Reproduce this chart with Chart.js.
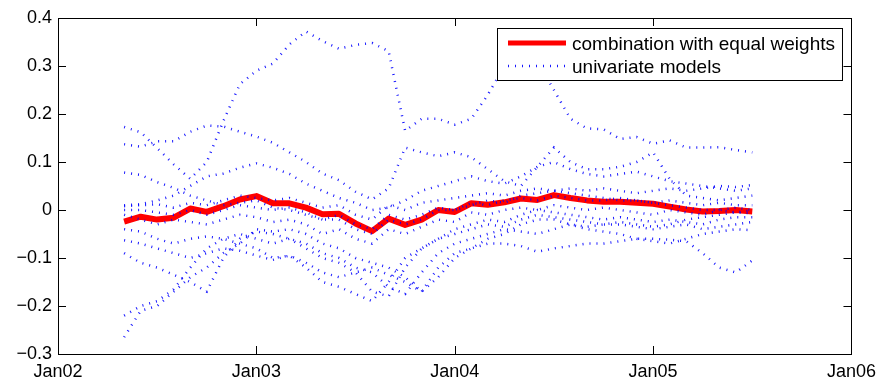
<!DOCTYPE html>
<html><head><meta charset="utf-8">
<script src="https://cdn.jsdelivr.net/npm/chart.js@4.4.0/dist/chart.umd.min.js"></script>
<style>html,body{margin:0;padding:0;background:#fff;}</style>
</head><body>
<canvas id="c" width="883" height="384"></canvas>
<script>
// x values: months since Jan 2002
const months = [4,5,6,7,8,9,10,11,12,13,14,15,16,17,18,19,20,21,22,23,24,25,26,27,28,29,30,31,32,33,34,35,36,37,38,39,40,41,42];
const xTickLabels = ['Jan02','Jan03','Jan04','Jan05','Jan06'];
const legendLabels = ['combination with equal weights','univariate models'];

const combination = [-0.024,-0.014,-0.02,-0.016,0.003,-0.004,0.008,0.022,0.029,0.014,0.014,0.005,-0.009,-0.008,-0.028,-0.044,-0.018,-0.031,-0.02,0.0,-0.004,0.014,0.011,0.016,0.024,0.021,0.031,0.025,0.02,0.017,0.017,0.015,0.013,0.007,0.001,-0.003,-0.002,0.0,-0.003];

const model01 = [0.173,0.162,0.129,0.095,0.065,0.1,0.185,0.262,0.29,0.305,0.345,0.372,0.352,0.336,0.344,0.348,0.331,0.165,0.19,0.19,0.178,0.19,0.24,0.30,0.33,0.31,0.25,0.19,0.17,0.168,0.148,0.152,0.138,0.145,0.13,0.13,0.131,0.125,0.12];
const model02 = [0.137,0.132,0.143,0.143,0.163,0.176,0.174,0.163,0.153,0.14,0.12,0.1,0.076,0.062,0.038,0.022,0.045,0.13,0.12,0.112,0.12,0.11,0.085,0.06,0.05,0.09,0.13,0.1,0.085,0.085,0.09,0.1,0.12,0.065,0.03,0.025,0.02,0.025,0.03];
const model03 = [0.078,0.073,0.058,0.046,0.03,0.02,0.01,0.015,0.02,0.005,0.0,-0.01,-0.02,-0.02,-0.04,-0.05,-0.02,-0.03,-0.02,0.0,0.0,0.01,0.02,0.015,0.03,0.035,0.04,0.035,0.03,0.025,0.02,0.02,0.015,0.01,0.005,0.0,0.0,0.005,0.0];
const model04 = [0.01,0.012,0.02,0.03,0.05,0.07,0.076,0.088,0.097,0.088,0.075,0.055,0.04,0.025,0.015,0.0,0.005,0.02,0.04,0.05,0.06,0.07,0.06,0.055,0.07,0.09,0.1,0.085,0.075,0.07,0.075,0.08,0.07,0.06,0.055,0.05,0.045,0.04,0.045];
const model05 = [0.008,0.01,0.012,0.005,0.015,0.01,0.02,0.03,0.025,0.02,0.025,0.015,0.005,0.01,-0.01,-0.02,0.01,0.0,0.015,0.02,0.025,0.03,0.035,0.03,0.04,0.045,0.04,0.045,0.04,0.045,0.04,0.035,0.04,0.045,0.04,0.045,0.05,0.048,0.052];
const model06 = [0.0,0.0,-0.005,-0.01,0.0,-0.01,0.0,0.01,0.005,0.0,0.005,-0.005,-0.02,-0.01,-0.03,-0.04,-0.01,-0.02,-0.01,0.005,0.0,0.015,0.01,0.02,0.025,0.02,0.03,0.025,0.02,0.02,0.025,0.02,0.015,0.02,0.015,0.01,0.015,0.01,0.01];
const model07 = [-0.01,-0.02,-0.03,-0.02,-0.025,-0.03,-0.02,-0.01,-0.015,-0.025,-0.02,-0.03,-0.05,-0.04,-0.06,-0.07,-0.04,-0.05,-0.035,-0.02,-0.025,-0.005,-0.01,0.0,0.005,0.0,0.01,0.005,0.0,0.005,0.0,-0.005,-0.01,0.0,-0.005,-0.01,0.0,-0.005,0.0];
const model08 = [-0.04,-0.045,-0.06,-0.07,-0.06,-0.055,-0.06,-0.07,-0.08,-0.1,-0.095,-0.12,-0.15,-0.16,-0.175,-0.19,-0.15,-0.1,-0.08,-0.06,-0.05,-0.04,-0.03,-0.035,-0.02,-0.01,-0.015,-0.02,-0.025,-0.03,-0.03,-0.035,-0.04,-0.035,-0.03,-0.04,-0.035,-0.03,-0.025];
const model09 = [-0.09,-0.11,-0.12,-0.135,-0.15,-0.17,-0.1,-0.06,-0.045,-0.05,-0.06,-0.07,-0.09,-0.1,-0.12,-0.13,-0.16,-0.175,-0.13,-0.09,-0.07,-0.06,-0.05,-0.04,-0.045,-0.05,-0.04,-0.03,-0.04,-0.045,-0.05,-0.06,-0.065,-0.07,-0.06,-0.05,-0.045,-0.04,-0.042];
const model10 = [-0.063,-0.07,-0.08,-0.09,-0.1,-0.09,-0.08,-0.085,-0.095,-0.104,-0.095,-0.11,-0.13,-0.14,-0.13,-0.12,-0.135,-0.15,-0.17,-0.12,-0.09,-0.08,-0.07,-0.07,-0.075,-0.087,-0.08,-0.075,-0.07,-0.07,-0.065,-0.06,-0.06,-0.062,-0.065,-0.09,-0.12,-0.13,-0.105];
const model11 = [-0.22,-0.2,-0.19,-0.165,-0.12,-0.08,-0.06,-0.05,-0.06,-0.07,-0.06,-0.08,-0.1,-0.11,-0.13,-0.17,-0.18,-0.12,-0.08,-0.06,-0.04,-0.03,-0.02,-0.025,-0.01,0.0,-0.005,-0.01,-0.015,-0.02,-0.015,-0.02,-0.025,-0.02,-0.025,-0.03,-0.02,-0.015,-0.015];
const model12 = [-0.265,-0.21,-0.2,-0.17,-0.14,-0.12,-0.09,-0.07,-0.04,-0.045,-0.04,-0.05,-0.07,-0.08,-0.1,-0.11,-0.12,-0.14,-0.17,-0.14,-0.1,-0.08,-0.06,-0.05,-0.03,-0.02,-0.02,-0.03,-0.035,-0.03,-0.025,-0.03,-0.035,-0.03,-0.02,-0.015,-0.01,-0.005,-0.007];

const models = [model01,model02,model03,model04,model05,model06,model07,model08,model09,model10,model11,model12];

const toPoints = arr => months.map((m, i) => ({x: m, y: arr[i]}));
const FONT = "'Liberation Sans', Arial, Helvetica, sans-serif";
const BLUE = 'rgba(0,0,255,0.9)';
const RED = '#ff0000';
const BLUE_DASH = [1, 6];

const datasets = [{
  label: legendLabels[0],
  data: toPoints(combination),
  borderColor: RED, borderWidth: 6, borderJoinStyle: 'round',
  pointRadius: 0, tension: 0, order: 2
}];
models.forEach((arr, k) => datasets.push({
  label: legendLabels[1],
  data: toPoints(arr),
  borderColor: BLUE, borderWidth: 2.5, borderDash: BLUE_DASH,
  pointRadius: 0, tension: 0, order: 1
}));

const frame = {
  id: 'frame',
  afterDatasetsDraw(chart) {
    const {ctx, chartArea: a, scales: {x, y}} = chart;
    ctx.save();
    ctx.strokeStyle = '#000';
    ctx.lineWidth = 1;
    ctx.beginPath();
    const TL = 8;
    x.ticks.forEach(t => {
      const px = Math.round(x.getPixelForValue(t.value)) + 0.5;
      ctx.moveTo(px, a.bottom); ctx.lineTo(px, a.bottom - TL);
      ctx.moveTo(px, a.top); ctx.lineTo(px, a.top + TL);
    });
    y.ticks.forEach(t => {
      const py = Math.round(y.getPixelForValue(t.value)) + 0.5;
      ctx.moveTo(a.left, py); ctx.lineTo(a.left + TL, py);
      ctx.moveTo(a.right, py); ctx.lineTo(a.right - TL, py);
    });
    ctx.stroke();
    ctx.strokeRect(Math.round(a.left) + 0.5, Math.round(a.top) + 0.5, Math.round(a.right - a.left), Math.round(a.bottom - a.top));

    // legend box (top right, inside axes)
    const red = chart.data.datasets[0], blue = chart.data.datasets[1];
    ctx.font = '19px ' + FONT;
    const tw = Math.max(ctx.measureText(red.label).width, ctx.measureText(blue.label).width);
    const sample = 58, padL = 11, gap = 6, padR = 7;
    const w = padL + sample + gap + tw + padR, h = 52;
    const bx = Math.round(a.right - 9 - w), by = Math.round(a.top + 10);
    ctx.fillStyle = '#fff';
    ctx.fillRect(bx, by, w, h);
    ctx.strokeStyle = '#000';
    ctx.lineWidth = 1;
    ctx.strokeRect(bx + 0.5, by + 0.5, w, h);
    // samples
    ctx.beginPath();
    ctx.strokeStyle = red.borderColor; ctx.lineWidth = 5;
    ctx.moveTo(bx + padL, by + 15); ctx.lineTo(bx + padL + sample, by + 15);
    ctx.stroke();
    ctx.beginPath();
    ctx.strokeStyle = blue.borderColor; ctx.lineWidth = 2.5;
    ctx.setLineDash(blue.borderDash);
    ctx.moveTo(bx + padL, by + 38); ctx.lineTo(bx + padL + sample, by + 38);
    ctx.stroke();
    ctx.setLineDash([]);
    ctx.fillStyle = '#000';
    ctx.textBaseline = 'alphabetic';
    ctx.textAlign = 'left';
    ctx.fillText(red.label, bx + padL + sample + gap, by + 22);
    ctx.fillText(blue.label, bx + padL + sample + gap, by + 45);
    ctx.restore();
  }
};

new Chart(document.getElementById('c'), {
  type: 'line',
  data: {datasets},
  options: {
    responsive: false,
    devicePixelRatio: 1,
    animation: false,
    layout: {padding: {top: 18, right: 28, left: 0, bottom: 0}},
    plugins: {legend: {display: false}, tooltip: {enabled: false}},
    scales: {
      x: {
        type: 'linear', min: 0, max: 48,
        grid: {display: false, drawTicks: false},
        border: {display: false},
        afterFit: s => { s.height = 30; },
        ticks: {
          stepSize: 12, padding: 7, color: '#000', maxRotation: 0,
          font: {family: FONT, size: 18},
          callback: v => xTickLabels[Math.round(v / 12)]
        }
      },
      y: {
        min: -0.3, max: 0.4,
        grid: {display: false, drawTicks: false},
        border: {display: false},
        afterFit: s => { s.width = 58; },
        ticks: {
          stepSize: 0.1, padding: 6, color: '#000',
          font: {family: FONT, size: 18},
          callback: v => {
            const r = Math.round(v * 10) / 10;
            if (r === 0) return '0';
            return (r < 0 ? '\u2212' : '') + Math.abs(r).toFixed(1);
          }
        }
      }
    }
  },
  plugins: [frame]
});
</script>
</body></html>
